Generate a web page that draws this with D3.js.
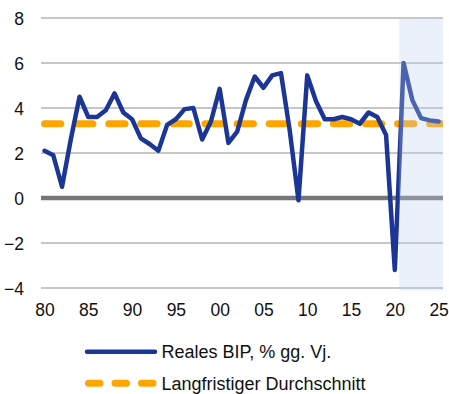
<!DOCTYPE html>
<html>
<head>
<meta charset="utf-8">
<script src="https://cdn.jsdelivr.net/npm/d3@7"></script>
<style>
  html, body { margin: 0; padding: 0; background: #fff; }
  svg text { font-family: "Liberation Sans", Arial, sans-serif; fill: #111; }
</style>
</head>
<body>
<svg id="chart" width="449" height="394"></svg>
<script>
// Real GDP growth, % y/y
const years = d3.range(1980, 2026);
const gdpGrowth = [
  2.1, 1.9, 0.5, 2.6, 4.5, 3.6, 3.6, 3.9, 4.65, 3.8,
  3.5, 2.65, 2.4, 2.1, 3.25, 3.5, 3.95, 4.0, 2.6, 3.4,
  4.85, 2.45, 2.95, 4.35, 5.4, 4.9, 5.45, 5.55, 3.0, -0.1,
  5.45, 4.3, 3.5, 3.5, 3.6, 3.5, 3.3, 3.8, 3.6, 2.8,
  -3.2, 6.0, 4.35, 3.55, 3.45, 3.4
];
const longRunAverage = 3.3;
const forecastStart = 2020.5;
const yTicks = [-4, -2, 0, 2, 4, 6, 8];
const xTickYears = [1980, 1985, 1990, 1995, 2000, 2005, 2010, 2015, 2020, 2025];
const legendLabels = ["Reales BIP, % gg. Vj.", "Langfristiger Durchschnitt"];

const blue = "#1b3694";
const orange = "#ffa500";
const svg = d3.select("#chart");

const x = d3.scaleLinear().domain([1979.6, 2025.5]).range([41, 443]);
const y = d3.scaleLinear().domain([-4, 8]).range([288, 18]);

svg.append("defs").append("clipPath").attr("id", "plot")
  .append("rect").attr("x", 41).attr("y", 10).attr("width", 402).attr("height", 290);

// horizontal grid
svg.append("g").selectAll("line").data(yTicks.filter(d => d !== 0)).join("line")
  .attr("x1", x.range()[0]).attr("x2", x.range()[1])
  .attr("y1", d => y(d)).attr("y2", d => y(d))
  .attr("stroke", "#8f8f8f").attr("stroke-width", 1.2);

// zero line
svg.append("line")
  .attr("x1", x.range()[0]).attr("x2", x.range()[1])
  .attr("y1", y(0)).attr("y2", y(0))
  .attr("stroke", "#777").attr("stroke-width", 4.5);

// long-run average
const avgLine = d3.line().x(d => x(d)).y(() => y(longRunAverage));
svg.append("path")
  .datum([1980, 2025.5])
  .attr("d", avgLine)
  .attr("clip-path", "url(#plot)")
  .attr("fill", "none").attr("stroke", orange)
  .attr("stroke-width", 7).attr("stroke-linecap", "round")
  .attr("stroke-dasharray", "16.3 15.8");

// GDP series
const gdpLine = d3.line().x((d, i) => x(years[i])).y(d => y(d));
svg.append("path")
  .datum(gdpGrowth)
  .attr("d", gdpLine)
  .attr("fill", "none").attr("stroke", blue)
  .attr("stroke-width", 4.5).attr("stroke-linejoin", "round").attr("stroke-linecap", "round");

// forecast period shading
svg.append("rect")
  .attr("x", x(forecastStart)).attr("y", y(8) + 0.5)
  .attr("width", x.range()[1] - x(forecastStart))
  .attr("height", y(-4) - y(8) + 2)
  .attr("fill", "rgb(184,208,238)").attr("fill-opacity", 0.3);

// y axis labels
const yAxis = d3.axisLeft(y).tickValues(yTicks).tickSize(0).tickPadding(0);
const gy = svg.append("g").attr("transform", "translate(24,0)").call(yAxis);
gy.select(".domain").remove();
gy.selectAll("text").attr("font-size", 17.5).attr("font-family", "Liberation Sans, Arial, sans-serif")
  .attr("fill", "#111").attr("dy", "0.36em");

// x axis labels
const xAxis = d3.axisBottom(x).tickValues(xTickYears).tickSize(0).tickPadding(0)
  .tickFormat(d => String(d % 100).padStart(2, "0"));
const gx = svg.append("g").attr("transform", "translate(0,304)").call(xAxis);
gx.select(".domain").remove();
gx.selectAll("text").attr("font-size", 17.5).attr("font-family", "Liberation Sans, Arial, sans-serif")
  .attr("fill", "#111").attr("dy", "0.71em");

// legend
const legend = svg.append("g");
legend.append("line")
  .attr("x1", 87).attr("x2", 155).attr("y1", 351.7).attr("y2", 351.7)
  .attr("stroke", blue).attr("stroke-width", 4.5).attr("stroke-linecap", "round");
legend.append("line")
  .attr("x1", 88.5).attr("x2", 155).attr("y1", 383.3).attr("y2", 383.3)
  .attr("stroke", orange).attr("stroke-width", 7).attr("stroke-linecap", "round")
  .attr("stroke-dasharray", "11.5 15");
legend.selectAll("text").data(legendLabels).join("text")
  .attr("x", 161.5).attr("y", (d, i) => 358 + i * 32)
  .attr("font-size", 18)
  .text(d => d);
</script>
</body>
</html>
